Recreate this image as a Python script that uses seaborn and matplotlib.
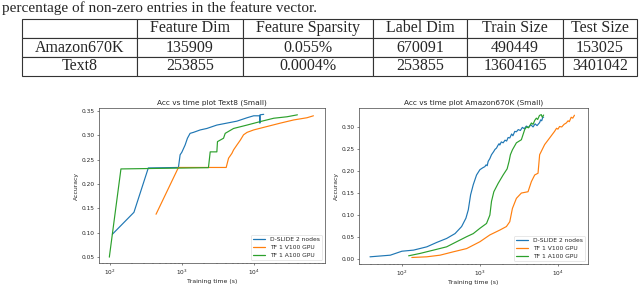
import pandas as pd
import matplotlib
matplotlib.use('Agg')
import matplotlib.pyplot as plt
import seaborn as sns

# Table contents
col_labels = ['', 'Feature Dim', 'Feature Sparsity', 'Label Dim', 'Train Size', 'Test Size']
row_amazon = ['Amazon670K', '135909', '0.055%', '670091', '490449', '153025']
row_text8 = ['Text8', '253855', '0.0004%', '253855', '13604165', '3401042']

series_names = ['D-SLIDE 2 nodes', 'TF 1 V100 GPU', 'TF 1 A100 GPU']

# Text8: training time (s) and accuracy
t8_dslide_t = [108, 215, 340, 889, 938, 989, 1100, 1185, 1290, 1435, 1780, 2200, 3030,
               4170, 5740, 7940, 9800, 11900, 11950, 12000, 13500]
t8_dslide_acc = [0.097, 0.142, 0.233, 0.234, 0.260, 0.265, 0.280, 0.294, 0.304, 0.306, 0.311,
                 0.314, 0.321, 0.325, 0.329, 0.336, 0.340, 0.340, 0.325, 0.342, 0.343]
t8_v100_t = [435, 889, 4080, 4400, 4900, 5160, 5740, 6400, 7100, 7940, 9800, 15000,
             23000, 35200, 53700, 66000]
t8_v100_acc = [0.138, 0.234, 0.234, 0.253, 0.263, 0.270, 0.280, 0.290, 0.301, 0.306, 0.311,
               0.318, 0.325, 0.3315, 0.336, 0.340]
t8_a100_t = [98, 142, 2317, 2450, 3030, 3090, 3750, 3955, 5160, 7940, 12000, 18600,
             28400, 39600]
t8_a100_acc = [0.050, 0.231, 0.2336, 0.266, 0.266, 0.287, 0.294, 0.304, 0.314, 0.321, 0.328,
               0.335, 0.338, 0.342]

# Amazon670K: training time (s) and accuracy
am_dslide_t = [39, 71, 100, 141, 209, 280, 375, 480, 583, 662, 710, 760, 822, 906, 1000,
               1080, 1158, 1200, 1240, 1277, 1340, 1408, 1500, 1560, 1632, 1700, 1760, 1800,
               1880, 1985, 2100, 2200, 2300, 2415, 2550, 2650, 2800, 2937, 3100, 3300, 3500,
               3700, 3941, 4200, 4500, 4800, 5100, 5400, 5830, 6000, 6200, 6400, 6560]
am_dslide_acc = [0.0053, 0.009, 0.018, 0.0205, 0.028, 0.038, 0.047, 0.058, 0.074, 0.093,
                 0.112, 0.146, 0.169, 0.191, 0.203, 0.207, 0.210, 0.214, 0.212, 0.222,
                 0.228, 0.237, 0.244, 0.249, 0.252, 0.258, 0.262, 0.259, 0.266, 0.264,
                 0.270, 0.268, 0.276, 0.275, 0.284, 0.280, 0.290, 0.289, 0.294, 0.292,
                 0.299, 0.296, 0.302, 0.299, 0.305, 0.300, 0.307, 0.303, 0.310, 0.316,
                 0.314, 0.322, 0.322]
am_v100_t = [134, 208, 308, 457, 676, 1000, 1342, 1800, 2187, 2415, 2610, 2937, 3400,
             4140, 4570, 5040, 5560, 5830, 6760, 7830, 9060, 9600, 10000, 10500, 11200,
             12000, 12800, 13500, 14000, 14800, 15500, 16300]
am_v100_acc = [0.0038, 0.0053, 0.009, 0.0167, 0.024, 0.0395, 0.055, 0.066, 0.074, 0.085,
               0.115, 0.138, 0.150, 0.153, 0.176, 0.191, 0.195, 0.237, 0.260, 0.275,
               0.290, 0.297, 0.295, 0.301, 0.300, 0.306, 0.309, 0.314, 0.312, 0.322,
               0.320, 0.3266]
am_a100_t = [122, 171, 254, 375, 503, 676, 822, 1000, 1216, 1342, 1408, 1509, 1714,
             1985, 2234, 2366, 2460, 2610, 2937, 3400, 3750, 3950, 4200, 4570, 4800,
             5050, 5290, 5500, 5800, 6120, 6300, 6560]
am_a100_acc = [0.0076, 0.013, 0.0205, 0.028, 0.0395, 0.051, 0.058, 0.070, 0.081, 0.100,
               0.131, 0.153, 0.172, 0.191, 0.205, 0.222, 0.237, 0.248, 0.264, 0.271,
               0.294, 0.300, 0.298, 0.309, 0.306, 0.315, 0.320, 0.317, 0.326, 0.328,
               0.322, 0.327]


def make_frame(ts, accs):
    parts = []
    for name, t, a in zip(series_names, ts, accs):
        parts.append(pd.DataFrame({'time': t, 'acc': a, 'method': name}))
    return pd.concat(parts, ignore_index=True)


df_text8 = make_frame([t8_dslide_t, t8_v100_t, t8_a100_t],
                      [t8_dslide_acc, t8_v100_acc, t8_a100_acc])
df_amazon = make_frame([am_dslide_t, am_v100_t, am_a100_t],
                       [am_dslide_acc, am_v100_acc, am_a100_acc])

palette = {'D-SLIDE 2 nodes': '#1f77b4', 'TF 1 V100 GPU': '#ff7f0e', 'TF 1 A100 GPU': '#2ca02c'}

sns.set_style('white')
plt.rcParams['font.family'] = ['DejaVu Sans']

fig = plt.figure(figsize=(6.4, 2.86), dpi=100)

# caption line above the table
fig.text(2 / 640, 1 - 12 / 286, 'percentage of non-zero entries in the feature vector.',
         family='Liberation Serif', fontsize=11, va='baseline', ha='left')

# table
tax = fig.add_axes([22 / 640, 1 - 76 / 286, 615 / 640, 57 / 286])
tax.axis('off')
col_px = [115, 106, 130, 94, 96, 74]
tbl = tax.table(cellText=[row_amazon, row_text8], colLabels=col_labels,
                colWidths=[c / sum(col_px) for c in col_px],
                cellLoc='center', bbox=[0, 0, 1, 1])
tbl.auto_set_font_size(False)
for (r, c), cell in tbl.get_celld().items():
    cell.set_edgecolor('#333333')
    cell.set_linewidth(0.8)
    cell.get_text().set_fontfamily('Liberation Serif')
    cell.get_text().set_fontsize(11.5)


def draw(ax, df, title, xlim, ylim, yticks):
    sns.lineplot(data=df, x='time', y='acc', hue='method', palette=palette,
                 estimator=None, sort=False, linewidth=0.85, ax=ax)
    ax.set_xscale('log')
    ax.set_xlim(*xlim)
    ax.set_ylim(*ylim)
    ax.set_yticks(yticks)
    ax.set_yticklabels([f'{v:.2f}' for v in yticks])
    ax.set_title(title, fontsize=5.3, pad=2.5)
    ax.set_xlabel('Training time (s)', fontsize=4.4, labelpad=1.5)
    ax.set_ylabel('Accuracy', fontsize=4.4, labelpad=2)
    ax.tick_params(axis='both', which='major', labelsize=4.2, length=1.6, width=0.4, pad=1.5,
                   left=True, bottom=True)
    ax.tick_params(axis='x', which='minor', length=0.9, width=0.3, bottom=True)
    for s in ax.spines.values():
        s.set_color('#444444')
        s.set_linewidth(0.5)
    leg = ax.legend(loc='lower right', fontsize=4.3, frameon=True, handlelength=2.0,
                    borderpad=0.4, labelspacing=0.4, handletextpad=0.8)
    leg.get_frame().set_linewidth(0.4)
    leg.get_frame().set_edgecolor('#cccccc')
    for line in leg.get_lines():
        line.set_linewidth(0.9)


ax1 = fig.add_axes([99 / 640, 1 - 263 / 286, 226 / 640, 155 / 286])
draw(ax1, df_text8, 'Acc vs time plot Text8 (Small)', (70.5, 95500), (0.038, 0.356),
     [0.05, 0.10, 0.15, 0.20, 0.25, 0.30, 0.35])

ax2 = fig.add_axes([359 / 640, 1 - 264 / 286, 229 / 640, 156 / 286])
draw(ax2, df_amazon, 'Acc vs time plot Amazon670K (Small)', (28.2, 24300), (-0.011, 0.343),
     [0.00, 0.05, 0.10, 0.15, 0.20, 0.25, 0.30])

fig.savefig('out.png', dpi=100)
